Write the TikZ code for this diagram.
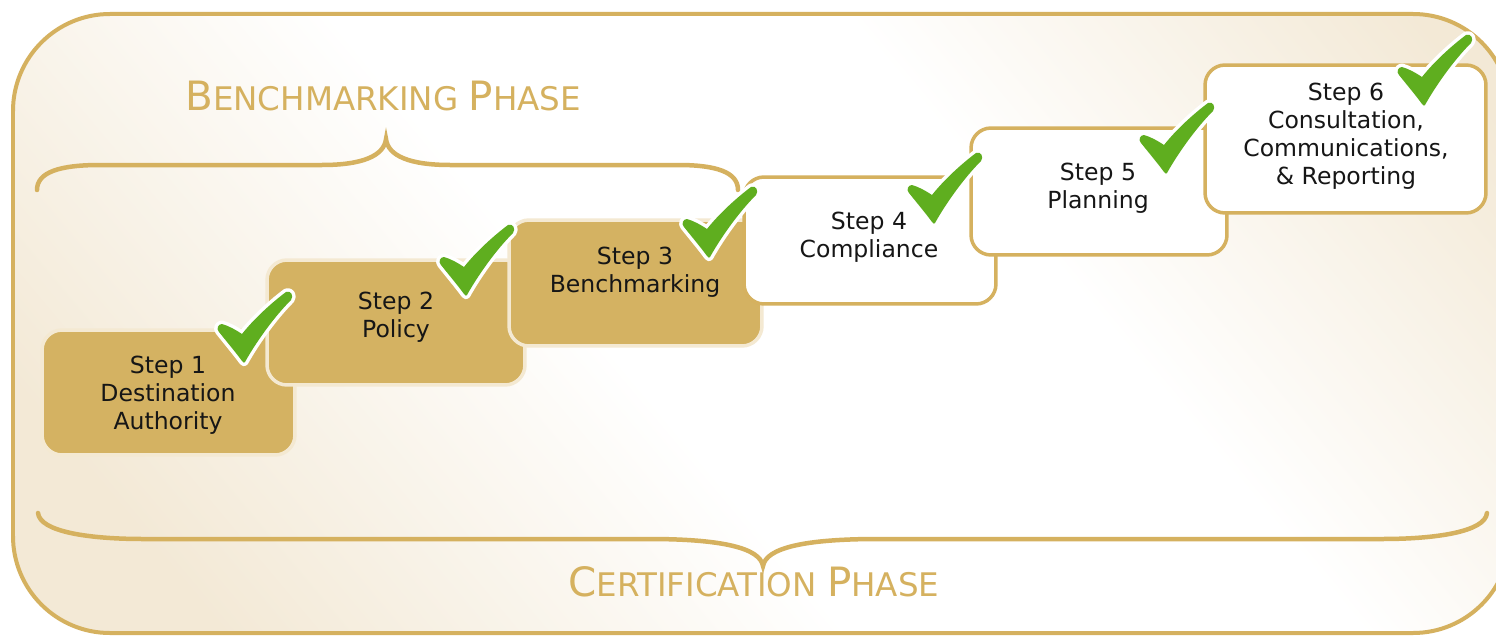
\documentclass[tikz,border=0pt]{standalone}
\usepackage{fontspec}
\setmainfont{DejaVu Sans}
\definecolor{gold}{HTML}{D5B15F}
\definecolor{boxgold}{HTML}{D4B262}
\definecolor{cream}{HTML}{F4E9D2}
\definecolor{bgb}{HTML}{F3E9D6}
\definecolor{tickgreen}{HTML}{5FAE1F}
\definecolor{txt}{HTML}{161616}
\pgfdeclarehorizontalshading{bgshade}{100bp}{color(0bp)=(bgb); color(22bp)=(bgb); color(44bp)=(white); color(62bp)=(white); color(82bp)=(bgb); color(100bp)=(bgb)}
\newcommand\TitleBig[1]{{\fontsize{23}{26}\selectfont #1}}
\newcommand\TitleSmall[1]{{\fontsize{18.5}{22}\selectfont #1}}
\tikzset{
  gbox/.style={draw=cream, line width=0.07cm, fill=boxgold, rounded corners=0.4cm, inner sep=0pt},
  wbox/.style={draw=gold, line width=0.07cm, fill=white, rounded corners=0.4cm, inner sep=0pt},
  steptext/.style={text=txt, align=center, inner sep=0pt, font=\fontsize{13.4}{15.9}\selectfont},
  title/.style={text=gold, inner sep=0pt},
  brace/.style={draw=gold, line width=0.09cm, line cap=round},
  tickmark/.pic={
    \path[fill=tickgreen, preaction={draw=white, line width=0.14cm, line join=round}]
      (0,0) .. controls (10,-18) and (28,-44) .. (46,-62)
      .. controls (49,-66) and (46,-72) .. (41,-70)
      .. controls (25,-58) and (8,-42) .. (-3,-28)
      .. controls (-9,-32) and (-16,-36) .. (-23,-38)
      .. controls (-27,-38) and (-29,-33) .. (-26,-30)
      .. controls (-18,-20) and (-8,-8) .. (-3,-1)
      .. controls (-2,1) and (0,1) .. (0,0) -- cycle;
  }
}
\begin{document}
\begin{tikzpicture}[x=0.02cm, y=-0.02cm]
\useasboundingbox (0,0) rectangle (1496,635);
\fill[white] (0,0) rectangle (1496,635);
% outer frame
\path[shading=bgshade, shading angle=40, rounded corners=1.94cm] (13,14) rectangle (1510,633);
\draw[gold, line width=0.08cm, rounded corners=1.94cm] (13,14) rectangle (1510,633);
% titles
\node[title, anchor=base west] (bt) at (185,111) {\TitleBig{B}\TitleSmall{ENCHMARKING\ }\TitleBig{P}\TitleSmall{HASE}};
\node[title, anchor=base west] (ct) at (568,596) {\TitleBig{C}\TitleSmall{ERTIFICATION\ }\TitleBig{P}\TitleSmall{HASE}};
% braces
\draw[brace] (37,190) .. controls (37,172) and (60,165) .. (100,165) -- (322,165)
  .. controls (362,165) and (384,156) .. (386,139)
  .. controls (388,156) and (410,165) .. (450,165) -- (678,165)
  .. controls (716,165) and (738,172) .. (738,190);
\draw[brace] (38,513) .. controls (40,532) and (90,539) .. (143,539) -- (649,539)
  .. controls (722,539) and (760,548) .. (763,566)
  .. controls (766,548) and (804,539) .. (878,539) -- (1382,539)
  .. controls (1435,539) and (1485,532) .. (1487,513);
% step boxes
\node[gbox, minimum width=5.06cm, minimum height=2.5cm] (s1) at (168.5,392.5) {};
\node[steptext] (t1) at (168,395) {Step 1\\Destination\\Authority};
\node[gbox, minimum width=5.16cm, minimum height=2.5cm] (s2) at (396,322.5) {};
\node[steptext] (t2) at (396,317) {Step 2\\Policy};
\node[gbox, minimum width=5.06cm, minimum height=2.52cm] (s3) at (635.5,283) {};
\node[steptext] (t3) at (635,272) {Step 3\\Benchmarking};
\node[wbox, minimum width=5.04cm, minimum height=2.54cm] (s4) at (870,240.5) {};
\node[steptext] (t4) at (869,237) {Step 4\\Compliance};
\node[wbox, minimum width=5.12cm, minimum height=2.54cm] (s5) at (1099,191.5) {};
\node[steptext] (t5) at (1098,188) {Step 5\\Planning};
\node[wbox, minimum width=5.62cm, minimum height=2.96cm] (s6) at (1345.5,139) {};
\node[steptext] (t6) at (1346,136) {Step 6\\Consultation,\\Communications,\\\& Reporting};
% check marks
\pic at (245,362) {tickmark};
\pic at (467,295) {tickmark};
\pic at (710,257) {tickmark};
\pic at (935,223) {tickmark};
\pic at (1167,173) {tickmark};
\pic at (1425,105) {tickmark};
\end{tikzpicture}
\end{document}
